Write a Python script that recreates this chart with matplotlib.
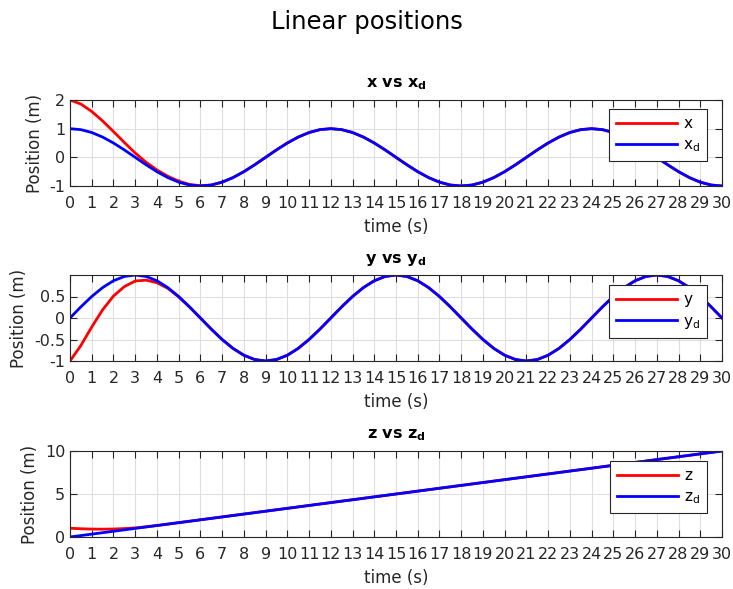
import numpy as np
import matplotlib
matplotlib.use("Agg")
import matplotlib.pyplot as plt

plt.rcParams['font.family'] = ['DejaVu Sans']
plt.rcParams['mathtext.fontset'] = 'dejavusans'

# ---- data ----
time_s = np.arange(0, 30.5, 0.5)

x_des = [1, 0.966, 0.866, 0.707, 0.5, 0.259, 0, -0.259, -0.5, -0.707, -0.866, -0.966,
         -1, -0.966, -0.866, -0.707, -0.5, -0.259, 0, 0.259, 0.5, 0.707, 0.866, 0.966,
         1, 0.966, 0.866, 0.707, 0.5, 0.259, 0, -0.259, -0.5, -0.707, -0.866, -0.966,
         -1, -0.966, -0.866, -0.707, -0.5, -0.259, 0, 0.259, 0.5, 0.707, 0.866, 0.966,
         1, 0.966, 0.866, 0.707, 0.5, 0.259, 0, -0.259, -0.5, -0.707, -0.866, -0.966, -1]
x_transient = [2.00, 1.86, 1.60, 1.27, 0.90, 0.52, 0.15, -0.17, -0.44, -0.66, -0.83, -0.945, -0.99]

y_des = [0, 0.259, 0.5, 0.707, 0.866, 0.966, 1, 0.966, 0.866, 0.707, 0.5, 0.259,
         0, -0.259, -0.5, -0.707, -0.866, -0.966, -1, -0.966, -0.866, -0.707, -0.5, -0.259,
         0, 0.259, 0.5, 0.707, 0.866, 0.966, 1, 0.966, 0.866, 0.707, 0.5, 0.259,
         0, -0.259, -0.5, -0.707, -0.866, -0.966, -1, -0.966, -0.866, -0.707, -0.5, -0.259,
         0, 0.259, 0.5, 0.707, 0.866, 0.966, 1, 0.966, 0.866, 0.707, 0.5, 0.259, 0]
y_transient = [-1.0, -0.64, -0.21, 0.19, 0.51, 0.73, 0.86, 0.88, 0.82, 0.69, 0.49, 0.255, 0.0]

z_des = [0.0, 0.167, 0.333, 0.5, 0.667, 0.833, 1.0, 1.167, 1.333, 1.5, 1.667, 1.833,
         2.0, 2.167, 2.333, 2.5, 2.667, 2.833, 3.0, 3.167, 3.333, 3.5, 3.667, 3.833,
         4.0, 4.167, 4.333, 4.5, 4.667, 4.833, 5.0, 5.167, 5.333, 5.5, 5.667, 5.833,
         6.0, 6.167, 6.333, 6.5, 6.667, 6.833, 7.0, 7.167, 7.333, 7.5, 7.667, 7.833,
         8.0, 8.167, 8.333, 8.5, 8.667, 8.833, 9.0, 9.167, 9.333, 9.5, 9.667, 9.833, 10.0]
z_transient = [1.02, 0.96, 0.92, 0.91, 0.93, 0.98, 1.06, 1.19, 1.34, 1.50, 1.67, 1.83, 2.0]

x_act = np.concatenate([x_transient, x_des[len(x_transient):]])
y_act = np.concatenate([y_transient, y_des[len(y_transient):]])
z_act = np.concatenate([z_transient, z_des[len(z_transient):]])

xticks = list(range(0, 31))

panels = [
    (x_act, x_des, r'x vs x$_\mathbf{d}$', 'x', r'x$_\mathrm{d}$', (-1, 2), [-1, 0, 1, 2], ['-1', '0', '1', '2']),
    (y_act, y_des, r'y vs y$_\mathbf{d}$', 'y', r'y$_\mathrm{d}$', (-1, 1), [-1, -0.5, 0, 0.5], ['-1', '-0.5', '0', '0.5']),
    (z_act, z_des, r'z vs z$_\mathbf{d}$', 'z', r'z$_\mathrm{d}$', (0, 10), [0, 5, 10], ['0', '5', '10']),
]

W, H = 733, 589
fig = plt.figure(figsize=(W / 100, H / 100), dpi=100)
fig.text(0.5, 1 - 22 / H, 'Linear positions', ha='center', va='center', fontsize=17.5, color='black')

ax_tops = [100, 275, 451]
ax_h = 86
left, right = 70, 722
legend_tops = [109, 285, 461]
dark = '#262626'

for (act, des, title, lab_a, lab_d, ylim, yt, ytl), top, ltop in zip(panels, ax_tops, legend_tops):
    ax = fig.add_axes([left / W, 1 - (top + ax_h) / H, (right - left) / W, ax_h / H])
    ax.plot(time_s, act, color='#FF0000', lw=2.0, label=lab_a)
    ax.plot(time_s, des, color='#0000FF', lw=2.0, label=lab_d)
    ax.set_xlim(0, 30)
    ax.set_ylim(*ylim)
    ax.set_xticks(xticks)
    ax.set_xticklabels([str(v) for v in xticks])
    ax.set_yticks(yt)
    ax.set_yticklabels(ytl)
    ax.grid(True, color='#dedede', lw=0.8)
    ax.set_axisbelow(True)
    ax.tick_params(direction='in', length=5, width=0.8, top=True, right=True,
                   labelsize=11.5, colors=dark)
    ax.tick_params(axis='x', pad=7)
    ax.tick_params(axis='y', pad=3.5)
    for s in ax.spines.values():
        s.set_color(dark)
        s.set_linewidth(0.8)
    ax.set_xlabel('time (s)', fontsize=12, color=dark, labelpad=5)
    ax.set_ylabel('Position (m)', fontsize=12, color=dark, labelpad=4)
    ax.set_title(title, fontsize=11.5, fontweight='bold', color='black', pad=9)
    leg = ax.legend(loc='upper right',
                    bbox_to_anchor=((707 - left) / (right - left), (top + ax_h - ltop) / ax_h),
                    fontsize=11, handlelength=4.0, handletextpad=0.4, labelspacing=0.45,
                    borderpad=0.45, borderaxespad=0, fancybox=False, framealpha=1,
                    edgecolor=dark)
    leg.get_frame().set_linewidth(0.8)

fig.savefig('out.png', dpi=100)
